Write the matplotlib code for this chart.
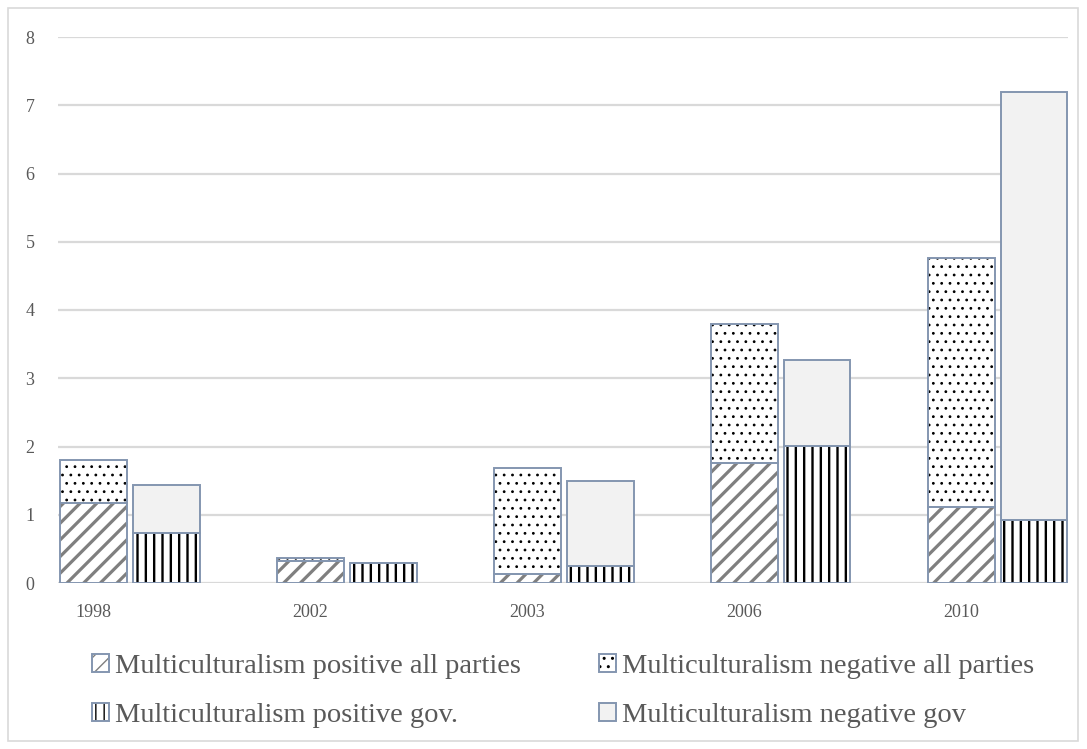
import matplotlib
matplotlib.use('Agg')
import matplotlib.pyplot as plt
from matplotlib.patches import Patch, Rectangle
from matplotlib.legend_handler import HandlerTuple
import numpy as np

years = ['1998', '2002', '2003', '2006', '2010']
pos_all = [1.17, 0.32, 0.13, 1.76, 1.12]
neg_all = [0.63, 0.04, 1.56, 2.03, 3.64]
pos_gov = [0.73, 0.29, 0.25, 2.01, 0.93]
neg_gov = [0.71, 0.00, 1.24, 1.26, 6.26]
series_labels = ['Multiculturalism positive all parties',
                 'Multiculturalism negative all parties',
                 'Multiculturalism positive gov.',
                 'Multiculturalism negative gov']
y_ticks = [0, 1, 2, 3, 4, 5, 6, 7, 8]

plt.rcParams['font.family'] = ['Liberation Serif', 'DejaVu Serif']
TEXT = '#595959'
EDGE = '#8496B0'
GRID = '#d9d9d9'

W, H = 1087, 749
fig = plt.figure(figsize=(W / 100, H / 100), dpi=100)
ax = fig.add_axes([58 / W, 166 / H, 1010 / W, 546 / H])

x = np.arange(len(years))
off = 0.168
width = 0.305


def draw(xpos, h, bottom, face, hatch, hcolor, hlw):
    with plt.rc_context({'hatch.linewidth': hlw}):
        bars = ax.bar(xpos, h, width, bottom=bottom, color=face, edgecolor=hcolor,
                      linewidth=0, hatch=hatch, zorder=2)
    for p in bars:
        if hasattr(p, 'set_hatch_linewidth'):
            p.set_hatch_linewidth(hlw)
    ax.bar(xpos, h, width, bottom=bottom, fill=False, edgecolor=EDGE,
           linewidth=1.4, zorder=3)


styles = [('white', '//', '#7f7f7f', 2.3),
          ('white', '..', 'black', 0.8),
          ('white', '||', 'black', 1.7),
          ('#f2f2f2', None, '#f2f2f2', 1.0)]

draw(x - off, pos_all, 0, *styles[0])
draw(x - off, neg_all, pos_all, *styles[1])
draw(x + off, pos_gov, 0, *styles[2])
draw(x + off, neg_gov, pos_gov, *styles[3])

ax.set_xlim(-0.332, 4.323)
ax.set_ylim(0, 8)
ax.set_yticks(y_ticks)
ax.set_yticklabels([str(v) for v in y_ticks])
ax.set_xticks(x - off)
ax.set_xticklabels(years)
ax.yaxis.grid(True, color=GRID, linewidth=1.6)
ax.set_axisbelow(True)
for s in ax.spines.values():
    s.set_visible(False)
ax.tick_params(axis='both', length=0, colors=TEXT, labelsize=13)
ax.tick_params(axis='y', pad=17)
ax.tick_params(axis='x', pad=15)

fig.add_artist(Rectangle((8 / W, 8 / H), (1078 - 8) / W, (741 - 8) / H,
                         transform=fig.transFigure, fill=False,
                         edgecolor=GRID, linewidth=1.2))

handles = []
for face, hatch, hc, hlw in styles:
    with plt.rc_context({'hatch.linewidth': hlw}):
        hp = Patch(facecolor=face, edgecolor=hc, linewidth=0, hatch=hatch)
    if hasattr(hp, 'set_hatch_linewidth'):
        hp.set_hatch_linewidth(hlw)
    bp = Patch(facecolor='none', edgecolor=EDGE, linewidth=1.4)
    handles.append((hp, bp))

order = [0, 2, 1, 3]
fig.legend([handles[i] for i in order], [series_labels[i] for i in order],
           handler_map={tuple: HandlerTuple(ndivide=1)},
           ncol=2, loc='center', bbox_to_anchor=(0.518, 0.0775), frameon=False,
           fontsize=20.5, handlelength=0.6, handleheight=0.6, handletextpad=0.2,
           columnspacing=2.75, labelspacing=0.85, labelcolor=TEXT)

fig.savefig('out.png', dpi=100)
